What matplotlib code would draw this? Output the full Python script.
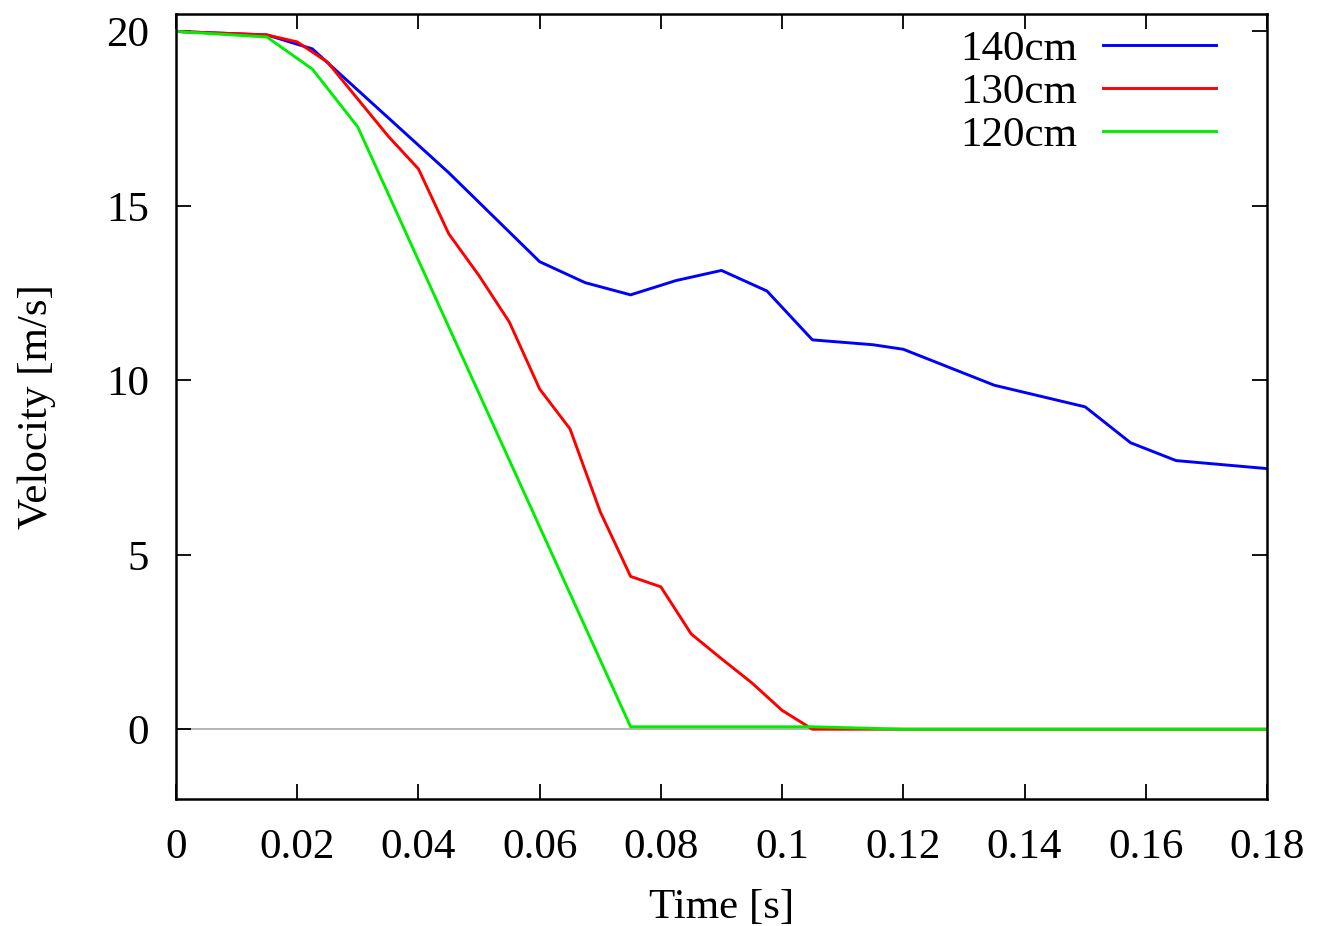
import matplotlib
matplotlib.use("Agg")
import matplotlib.pyplot as plt

plt.rcParams['font.family'] = ['Liberation Serif', 'DejaVu Serif']

# Data
t_140 = [0, 0.015, 0.0225, 0.045, 0.06, 0.0675, 0.075, 0.0825, 0.09, 0.0975,
         0.105, 0.115, 0.12, 0.135, 0.15, 0.1575, 0.165, 0.18]
v_140 = [20, 19.9, 19.5, 15.95, 13.4, 12.8, 12.45, 12.86, 13.15, 12.56,
         11.16, 11.02, 10.89, 9.86, 9.24, 8.21, 7.7, 7.47]

t_130 = [0, 0.015, 0.02, 0.025, 0.035, 0.04, 0.045, 0.05, 0.055, 0.06, 0.065,
         0.07, 0.075, 0.08, 0.085, 0.09, 0.095, 0.1, 0.105, 0.18]
v_130 = [20, 19.9, 19.7, 19.12, 17.0, 16.06, 14.2, 13.0, 11.67, 9.75, 8.61,
         6.23, 4.38, 4.08, 2.73, 2.02, 1.33, 0.54, 0.0, 0.0]

t_120 = [0, 0.015, 0.0225, 0.03, 0.075, 0.105, 0.12, 0.18]
v_120 = [20, 19.84, 18.92, 17.26, 0.07, 0.07, 0.0, 0.0]

labels = ["140cm", "130cm", "120cm"]
colors = ["#0000ff", "#ff0000", "#00ee00"]

FS = 31

fig = plt.figure(figsize=(13.25, 9.26), dpi=100)
ax = fig.add_axes([176/1325, 1-799/926, (1267-176)/1325, (799-14)/926])

ax.axhline(0, color="#a8a8a8", lw=1.2, zorder=1)
for t, v, lab, c in zip([t_140, t_130, t_120], [v_140, v_130, v_120], labels, colors):
    ax.plot(t, v, color=c, lw=2.1, label=lab, zorder=2)

ax.set_xlim(0, 0.18)
ax.set_ylim(-2, 20.5)
ax.set_xticks([0, 0.02, 0.04, 0.06, 0.08, 0.1, 0.12, 0.14, 0.16, 0.18])
ax.set_xticklabels(["0", "0.02", "0.04", "0.06", "0.08", "0.1", "0.12", "0.14", "0.16", "0.18"])
ax.set_yticks([0, 5, 10, 15, 20])
ax.tick_params(direction="in", length=11, width=1.3, top=True, right=True,
               labelsize=FS, colors="black")
ax.tick_params(axis="x", pad=21)
ax.tick_params(axis="y", pad=19.5)
for s in ax.spines.values():
    s.set_linewidth(1.8)

ax.set_xlabel("Time [s]", fontsize=FS, labelpad=16)
ax.set_ylabel("Velocity [m/s]", fontsize=FS, labelpad=36)

leg = ax.legend(loc="upper right", bbox_to_anchor=(1216/1325, 1-30/926),
                bbox_transform=fig.transFigure, frameon=False, markerfirst=False,
                fontsize=FS, handlelength=2.63, handletextpad=0.6,
                labelspacing=0.09, borderpad=0, borderaxespad=0)

fig.savefig("out.png", dpi=100)
